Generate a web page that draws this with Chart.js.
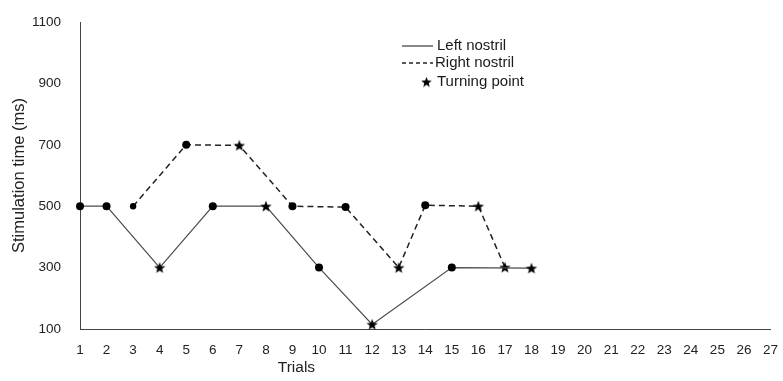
<!DOCTYPE html>
<html>
<head>
<meta charset="utf-8">
<script src="https://cdn.jsdelivr.net/npm/chart.js@4/dist/chart.umd.min.js"></script>
<style>
  html, body { margin: 0; padding: 0; background: #fff; }
  #wrap { width: 783px; height: 381px; position: relative; }
</style>
</head>
<body>
<div id="wrap"><canvas id="c"></canvas></div>
<script>
// Trial numbers along the x axis
const trials = ['1','2','3','4','5','6','7','8','9','10','11','12','13','14',
                '15','16','17','18','19','20','21','22','23','24','25','26','27'];

// Stimulation time (ms) per trial; null = no stimulation on that side
const leftNostril  = [500, 500, null, 300, null, 500, null, 500, null, 300, null, 115, null, null,
                      300, null, null, 298, null, null, null, null, null, null, null, null, null];
const rightNostril = [null, null, 500, null, 700, null, 698, null, 500, null, 497, null, 300, 503,
                      null, 500, 301, null, null, null, null, null, null, null, null, null, null];

// Marker kind per trial: 'star' marks a turning point
const leftMarks  = ['dot', 'dot', null, 'star', null, 'dot', null, 'star', null, 'dot', null, 'star', null, null,
                    'dot', null, null, 'star', null, null, null, null, null, null, null, null, null];
const rightMarks = [null, null, 'dot', null, 'dot', null, 'star', null, 'dot', null, 'dot', null, 'star', 'dot',
                    null, 'star', 'star', null, null, null, null, null, null, null, null, null, null];

const yTicks = [100, 300, 500, 700, 900, 1100];
const seriesNames = ['Left nostril', 'Right nostril'];
const turningLabel = 'Turning point';
const xTitle = 'Trials';
const yTitle = 'Stimulation time (ms)';

const FONT = '"Liberation Sans", Arial, Helvetica, sans-serif';

// Filled five-point star used as the turning-point marker
function makeStar(size) {
  const cv = document.createElement('canvas');
  cv.width = size; cv.height = size;
  const g = cv.getContext('2d');
  const cx = size / 2, cy = size / 2, ro = size / 2, ri = ro * 0.42;
  g.beginPath();
  for (let i = 0; i < 10; i++) {
    const r = i % 2 === 0 ? ro : ri;
    const a = -Math.PI / 2 + i * Math.PI / 5;
    const px = cx + r * Math.cos(a), py = cy + r * Math.sin(a) + size * 0.04;
    if (i === 0) g.moveTo(px, py); else g.lineTo(px, py);
  }
  g.closePath();
  g.fillStyle = '#000';
  g.fill();
  return cv;
}
const starImg = makeStar(12);
const legendStar = makeStar(11);

function styleFor(marks) {
  return ctx => marks[ctx.dataIndex] === 'star' ? starImg : 'circle';
}

// Legend drawn inside the plot, plus the x-axis caption
const annotations = {
  id: 'annotations',
  afterDraw(chart) {
    const { ctx, chartArea: a, scales } = chart;
    ctx.save();
    ctx.font = '15px ' + FONT;
    ctx.fillStyle = '#1a1a1a';
    ctx.textBaseline = 'middle';
    const x0 = a.left + 322, x1 = x0 + 31, tx = x1 + 4;
    // solid sample
    ctx.strokeStyle = '#3a3a3a'; ctx.lineWidth = 1.2;
    ctx.beginPath(); ctx.moveTo(x0, 46); ctx.lineTo(x1, 46); ctx.stroke();
    ctx.fillText(seriesNames[0], tx, 46);
    // dashed sample
    ctx.strokeStyle = '#222'; ctx.lineWidth = 1.3; ctx.setLineDash([4, 3]);
    ctx.beginPath(); ctx.moveTo(x0, 63); ctx.lineTo(x1, 63); ctx.stroke();
    ctx.setLineDash([]);
    ctx.fillText(seriesNames[1], tx - 2, 63);
    // star sample
    ctx.drawImage(legendStar, x1 - 12, 82 - 5.5);
    ctx.fillText(turningLabel, tx, 82);
    // x-axis caption
    ctx.font = '15.5px ' + FONT;
    ctx.textAlign = 'center';
    ctx.fillStyle = '#222';
    ctx.fillText(xTitle, scales.x.getPixelForValue(8.15), 368);
    ctx.restore();
  }
};

new Chart(document.getElementById('c'), {
  type: 'line',
  data: {
    labels: trials,
    datasets: [
      {
        label: seriesNames[0],
        data: leftNostril,
        borderColor: '#4a4a4a',
        borderWidth: 1.2,
        spanGaps: true,
        tension: 0,
        pointStyle: styleFor(leftMarks),
        pointRadius: 4,
        pointBackgroundColor: '#000',
        pointBorderColor: '#000',
        pointBorderWidth: 0,
        clip: false
      },
      {
        label: seriesNames[1],
        data: rightNostril,
        borderColor: '#222',
        borderWidth: 1.5,
        borderDash: [6, 4],
        spanGaps: true,
        tension: 0,
        pointStyle: styleFor(rightMarks),
        pointRadius: ctx => ctx.dataIndex === 2 ? 3.2 : 4,
        pointBackgroundColor: '#000',
        pointBorderColor: '#000',
        pointBorderWidth: 0,
        clip: false
      }
    ]
  },
  options: {
    responsive: true,
    maintainAspectRatio: false,
    animation: false,
    events: [],
    layout: { padding: { top: 22, right: 11, bottom: 0, left: 0 } },
    plugins: { legend: { display: false }, tooltip: { enabled: false } },
    scales: {
      x: {
        offset: false,
        grid: { display: false },
        border: { display: true, color: '#444', width: 1 },
        ticks: { autoSkip: false, maxRotation: 0, color: '#222', padding: 5,
                 font: { family: FONT, size: 13.5 } },
        afterFit: s => { s.height = 52; }
      },
      y: {
        min: 100, max: 1100,
        grid: { display: false },
        border: { display: true, color: '#444', width: 1 },
        afterBuildTicks: s => { s.ticks = yTicks.map(v => ({ value: v })); },
        ticks: { color: '#222', padding: 11, font: { family: FONT, size: 13.5 },
                 callback: v => String(v) },
        title: { display: true, text: yTitle, color: '#222',
                 font: { family: FONT, size: 16.5 }, padding: { top: 10, bottom: 0 } },
        afterFit: s => { s.width = 80; }
      }
    }
  },
  plugins: [annotations]
});
</script>
</body>
</html>
